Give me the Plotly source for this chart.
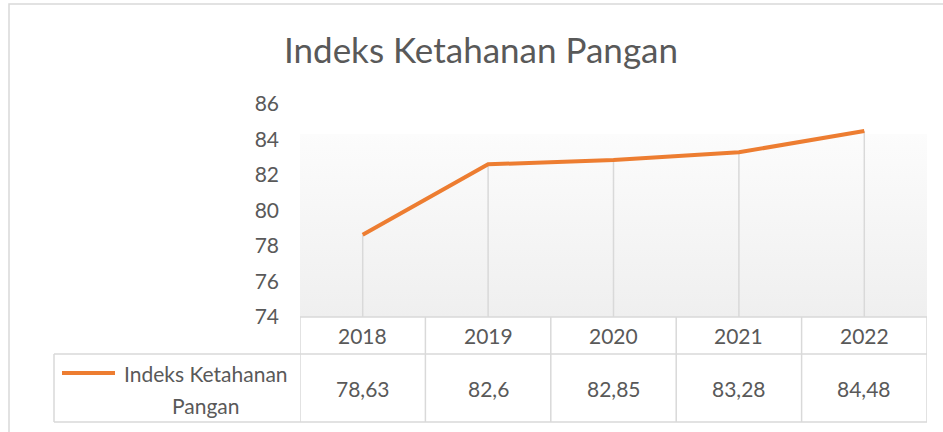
"""Indeks Ketahanan Pangan - line chart with a data table underneath (Excel style)."""

import plotly.graph_objects as go

# data
YEARS = ["2018", "2019", "2020", "2021", "2022"]
VALUES = [78.63, 82.6, 82.85, 83.28, 84.48]
SERIES_NAME = "Indeks Ketahanan Pangan"
TITLE = "Indeks Ketahanan Pangan"
Y_MIN, Y_MAX, Y_STEP = 74, 86, 2

W, H = 943, 432
FONT = "Lato"
TEXT_COLOR = "#595959"
LINE_COLOR = "#ED7D31"
GRID_COLOR = "#d9d9d9"
TEXT_SIZE = 21


def px_x(x):
    return x / W


def px_y(y):
    return 1 - y / H


xs = list(range(len(YEARS)))
n = len(YEARS)

fig = go.Figure()

# plot area gradient background
fig.add_trace(go.Scatter(
    x=[-0.5, n - 0.5, n - 0.5, -0.5], y=[Y_MIN, Y_MIN, Y_MAX, Y_MAX],
    fill='toself', mode='none', hoverinfo='skip', showlegend=False,
    fillgradient=dict(type='vertical',
                      colorscale=[[0, '#efefef'], [0.86, '#fcfcfc'], [0.861, '#ffffff'], [1, '#ffffff']]),
))

# drop lines from each point down to the axis
drop_x, drop_y = [], []
for x, v in zip(xs, VALUES):
    drop_x += [x, x, None]
    drop_y += [Y_MIN, v, None]
fig.add_trace(go.Scatter(x=drop_x, y=drop_y, mode='lines', hoverinfo='skip', showlegend=False,
                         line=dict(color=GRID_COLOR, width=1.5)))

fig.add_trace(go.Scatter(x=xs, y=VALUES, mode='lines', name=SERIES_NAME, showlegend=False,
                         line=dict(color=LINE_COLOR, width=4)))

# data table grid
row_top, row_mid, row_bot = 317, 354, 422
table_left, plot_left, plot_right = 54, 300, 927
line_style = dict(color=GRID_COLOR, width=1.5)
shapes = [
    # outer chart border
    dict(type='rect', xref='paper', yref='paper', x0=px_x(9), x1=px_x(W + 5), y0=px_y(4), y1=px_y(H + 5),
         line=line_style),
    dict(type='line', xref='paper', yref='paper', x0=px_x(plot_left), x1=px_x(plot_right),
         y0=px_y(row_top), y1=px_y(row_top), line=line_style),
    dict(type='line', xref='paper', yref='paper', x0=px_x(table_left), x1=px_x(plot_right),
         y0=px_y(row_mid), y1=px_y(row_mid), line=line_style),
    dict(type='line', xref='paper', yref='paper', x0=px_x(table_left), x1=px_x(plot_right),
         y0=px_y(row_bot), y1=px_y(row_bot), line=line_style),
    dict(type='line', xref='paper', yref='paper', x0=px_x(table_left), x1=px_x(table_left),
         y0=px_y(row_mid), y1=px_y(row_bot), line=line_style),
    # legend key
    dict(type='line', xref='paper', yref='paper', x0=px_x(62), x1=px_x(115),
         y0=px_y(373), y1=px_y(373), line=dict(color=LINE_COLOR, width=4)),
]
for i in range(n + 1):
    shapes.append(dict(type='line', xref='x', yref='paper', x0=i - 0.5, x1=i - 0.5,
                       y0=px_y(row_top), y1=px_y(row_bot), line=line_style))

text_font = dict(family=FONT, size=TEXT_SIZE, color=TEXT_COLOR)
annotations = []
for x, year, v in zip(xs, YEARS, VALUES):
    annotations.append(dict(x=x, xref='x', y=px_y((row_top + row_mid) / 2), yref='paper',
                            xanchor='center', yanchor='middle',
                            text=year, showarrow=False, font=text_font))
    annotations.append(dict(x=x, xref='x', y=px_y((row_mid + row_bot) / 2), yref='paper',
                            xanchor='center', yanchor='middle',
                            text=str(v).replace('.', ','), showarrow=False, font=text_font))

first, last = SERIES_NAME.rsplit(' ', 1)
annotations.append(dict(x=px_x(206), xref='paper', y=px_y(373), yref='paper', text=first,
                        xanchor='center', yanchor='middle', showarrow=False, font=text_font))
annotations.append(dict(x=px_x(206), xref='paper', y=px_y(405), yref='paper', text=last,
                        xanchor='center', yanchor='middle', showarrow=False, font=text_font))

fig.update_layout(
    width=W, height=H,
    margin=dict(l=0, r=0, t=0, b=0),
    paper_bgcolor='white', plot_bgcolor='rgba(0,0,0,0)',
    showlegend=False,
    title=dict(text=TITLE, x=px_x(481), xanchor='center', y=px_y(51), yanchor='middle',
               font=dict(family=FONT, size=35, color=TEXT_COLOR)),
    xaxis=dict(domain=[px_x(plot_left), px_x(plot_right)], range=[-0.5, n - 0.5], automargin=False,
               showgrid=False, zeroline=False, showline=False, showticklabels=False),
    yaxis=dict(domain=[px_y(row_top), px_y(104)], range=[Y_MIN, Y_MAX], dtick=Y_STEP, automargin=False,
               showgrid=False, zeroline=False, showline=False, ticklabelstandoff=20,
               tickfont=dict(family=FONT, size=TEXT_SIZE, color=TEXT_COLOR)),
    shapes=shapes,
    annotations=annotations,
)

# drop the default 8px body margin so the chart sits at the page corner
fig.write_html("out.html", config={"displayModeBar": False},
               post_script="document.body.style.margin = '0';")
